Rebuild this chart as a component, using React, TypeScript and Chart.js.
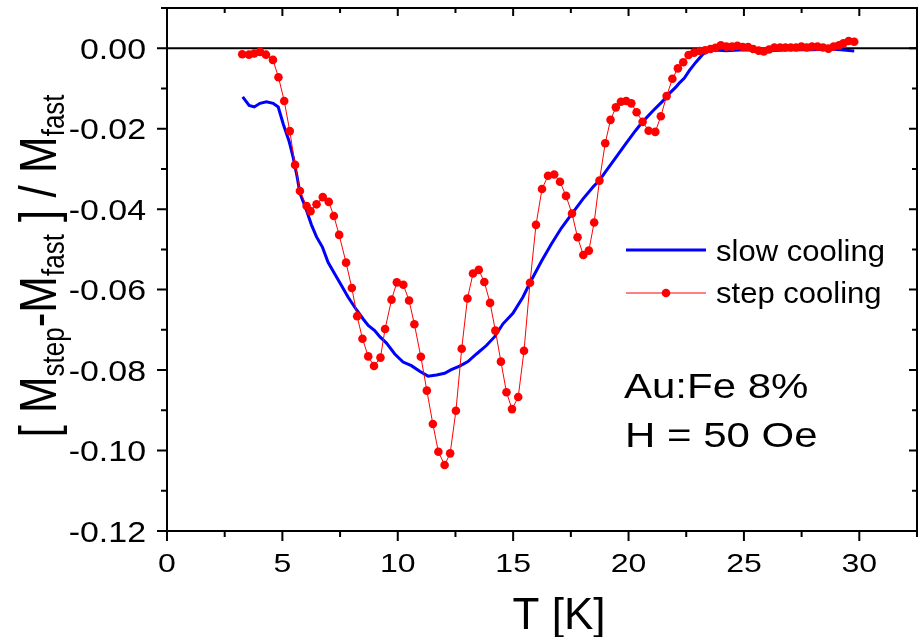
import React, { useEffect, useRef } from 'react';
import { Chart, registerables } from 'chart.js';

Chart.register(...registerables);

// ---- data ----
const stepT = [
  3.26, 3.55, 3.78, 4.03, 4.29, 4.59, 4.83, 5.08, 5.32, 5.55, 5.76, 6.05, 6.22, 6.48, 6.75, 7.01,
  7.23, 7.46, 7.76, 8.01, 8.24, 8.47, 8.72, 8.97, 9.25, 9.45, 9.73, 9.96, 10.24, 10.49, 10.72, 11.0,
  11.26, 11.52, 11.76, 12.03, 12.27, 12.52, 12.77, 13.02, 13.26, 13.51, 13.75, 14.0, 14.23, 14.47,
  14.71, 14.95, 15.22, 15.47, 15.73, 15.99, 16.25, 16.51, 16.78, 17.03, 17.29, 17.55, 17.79, 18.04,
  18.28, 18.51, 18.74, 18.99, 19.22, 19.45, 19.67, 19.9, 20.12, 20.35, 20.61, 20.87, 21.16, 21.4,
  21.65, 21.9, 22.14, 22.37, 22.6, 22.84, 23.09, 23.32, 23.55, 23.77, 24.0, 24.24, 24.49, 24.72,
  24.95, 25.18, 25.4, 25.64, 25.86, 26.09, 26.32, 26.57, 26.8, 27.03, 27.26, 27.49, 27.72, 27.95,
  28.19, 28.43, 28.66, 28.89, 29.12, 29.31, 29.54, 29.78,
];
const stepV = [
  -0.0015, -0.0016, -0.0013, -0.0009, -0.0016, -0.0029, -0.0072, -0.0131, -0.0206, -0.029, -0.0355,
  -0.0392, -0.0405, -0.0388, -0.037, -0.0382, -0.0417, -0.0464, -0.0533, -0.0596, -0.0666, -0.0722,
  -0.0766, -0.079, -0.0769, -0.0698, -0.0625, -0.0582, -0.0588, -0.0627, -0.0686, -0.0767, -0.0851,
  -0.0934, -0.1003, -0.1036, -0.1007, -0.0901, -0.0747, -0.0622, -0.056, -0.0551, -0.0581, -0.0633,
  -0.0702, -0.0779, -0.0855, -0.0897, -0.0867, -0.0752, -0.0583, -0.0439, -0.035, -0.0317, -0.0314,
  -0.0332, -0.0367, -0.0411, -0.047, -0.0514, -0.0503, -0.0433, -0.0329, -0.0236, -0.0178, -0.0147,
  -0.0133, -0.0131, -0.0137, -0.0159, -0.0183, -0.0205, -0.0208, -0.0169, -0.0119, -0.0076, -0.005,
  -0.0035, -0.0017, -0.0011, -0.0007, -0.0005, -0.0002, 0.0001, 0.0007, 0.0004, 0.0004, 0.0006,
  0.0003, 0.0003, -0.0002, -0.0006, -0.0008, -0.0003, 0.0002, 0.0002, 0.0002, 0.0002, 0.0002,
  0.0004, 0.0002, 0.0004, 0.0004, 0.0002, -0.0001, 0.0004, 0.0007, 0.0012, 0.0018, 0.0016,
];

const slowT = [
  3.28, 3.56, 3.78, 4.03, 4.31, 4.6, 4.82, 5.04, 5.29, 5.47, 5.64, 5.76, 6.05, 6.26, 6.48, 6.74,
  6.98, 7.27, 7.56, 7.85, 8.21, 8.5, 8.72, 9.0, 9.22, 9.51, 9.87, 10.23, 10.59, 10.95, 11.31, 11.68,
  12.03, 12.32, 12.68, 13.04, 13.41, 13.84, 14.2, 14.56, 14.99, 15.42, 15.73, 16.22, 16.65, 17.09,
  17.55, 18.02, 18.46, 18.74, 19.03, 19.47, 19.9, 20.3, 20.61, 21.05, 21.49, 21.65, 22.06, 22.21,
  22.42, 22.64, 22.93, 23.22, 23.51, 23.9, 24.23, 25.0, 26.0, 27.0, 28.0, 28.7, 29.2, 29.78,
];
const slowV = [
  -0.0121, -0.0142, -0.0146, -0.0137, -0.0133, -0.0137, -0.0146, -0.0189, -0.0231, -0.0272, -0.032,
  -0.036, -0.0404, -0.0439, -0.0469, -0.0495, -0.0532, -0.0561, -0.059, -0.0619, -0.065, -0.0673,
  -0.0689, -0.0702, -0.0717, -0.0733, -0.076, -0.078, -0.0789, -0.0803, -0.0815, -0.0812, -0.0808,
  -0.0799, -0.079, -0.0779, -0.076, -0.0739, -0.0717, -0.0685, -0.0659, -0.0619, -0.0583, -0.053,
  -0.0487, -0.0447, -0.0411, -0.0375, -0.0345, -0.0328, -0.0305, -0.027, -0.0236, -0.0205, -0.0183,
  -0.0156, -0.0131, -0.0119, -0.0096, -0.0086, -0.0074, -0.0055, -0.0034, -0.0015, -0.0005, -0.0005,
  -0.0006, -0.0004, -0.0006, -0.0004, -0.0004, -0.0002, -0.0004, -0.0007,
];

const xMajor = [0, 5, 10, 15, 20, 25, 30];
const xMinor = [2.5, 7.5, 12.5, 17.5, 22.5, 27.5, 32.5];
const yMajor = [0, -0.02, -0.04, -0.06, -0.08, -0.1, -0.12];
const yMinor = [0.01, -0.01, -0.03, -0.05, -0.07, -0.09, -0.11];
const yLabels = ['0.00', '-0.02', '-0.04', '-0.06', '-0.08', '-0.10', '-0.12'];

const FONT = '"Liberation Sans", Arial, Helvetica, sans-serif';

function drawText(
  ctx: CanvasRenderingContext2D,
  s: string,
  x: number,
  y: number,
  size: number,
  align: 'left' | 'center' | 'right',
  sx = 1
) {
  ctx.save();
  ctx.font = `${size}px ${FONT}`;
  ctx.textBaseline = 'alphabetic';
  ctx.textAlign = 'left';
  const w = ctx.measureText(s).width * sx;
  const left = align === 'center' ? x - w / 2 : align === 'right' ? x - w : x;
  ctx.translate(left, y);
  ctx.scale(sx, 1);
  ctx.fillStyle = '#000';
  ctx.fillText(s, 0, 0);
  ctx.restore();
}

const decorPlugin = {
  id: 'decor',
  beforeDatasetsDraw(chart: any) {
    const ctx = chart.ctx as CanvasRenderingContext2D;
    const { left, right } = chart.chartArea;
    const y0 = chart.scales.y.getPixelForValue(0);
    ctx.save();
    ctx.strokeStyle = '#000';
    ctx.lineWidth = 2;
    ctx.beginPath();
    ctx.moveTo(left, y0);
    ctx.lineTo(right, y0);
    ctx.stroke();
    ctx.restore();
  },
  afterDraw(chart: any) {
    const ctx = chart.ctx as CanvasRenderingContext2D;
    const { left, right, top, bottom } = chart.chartArea;
    const xs = chart.scales.x;
    const ys = chart.scales.y;
    ctx.save();
    ctx.strokeStyle = '#000';
    ctx.lineWidth = 2;
    ctx.strokeRect(left, top, right - left, bottom - top);
    ctx.beginPath();
    const tick = (x1: number, y1: number, x2: number, y2: number) => {
      ctx.moveTo(x1, y1);
      ctx.lineTo(x2, y2);
    };
    xMajor.forEach((v) => {
      const px = xs.getPixelForValue(v);
      tick(px, bottom, px, bottom + 10);
      tick(px, top, px, top + 8);
    });
    xMinor.forEach((v) => {
      const px = xs.getPixelForValue(v);
      tick(px, bottom, px, bottom + 6);
      tick(px, top, px, top + 5);
    });
    yMajor.forEach((v) => {
      const py = ys.getPixelForValue(v);
      tick(left - 10, py, left, py);
      tick(right - 8, py, right, py);
    });
    yMinor.forEach((v) => {
      const py = ys.getPixelForValue(v);
      tick(left - 6, py, left, py);
      tick(right - 5, py, right, py);
    });
    ctx.stroke();
    ctx.restore();

    // tick labels
    yMajor.forEach((v, i) => {
      const py = ys.getPixelForValue(v);
      drawText(ctx, yLabels[i], left - 21, py + 10.5, 29, 'right', 1.17);
    });
    xMajor.forEach((v) => {
      const px = xs.getPixelForValue(v);
      drawText(ctx, String(v), px, 572, 25, 'center', 1.28);
    });

    // x title
    drawText(ctx, 'T [K]', 559, 629, 44, 'center', 1.0);

    // y title with subscripts
    const F = 44;
    const S = 26;
    const parts: [string, boolean][] = [
      ['[ M', false],
      ['step', true],
      ['-M', false],
      ['fast', true],
      [' ] / M', false],
      ['fast', true],
    ];
    ctx.save();
    let total = 0;
    const widths = parts.map(([s, sub]) => {
      ctx.font = `${sub ? S : F}px ${FONT}`;
      const w = ctx.measureText(s).width;
      total += w;
      return w;
    });
    ctx.translate(56, 266);
    ctx.rotate(-Math.PI / 2);
    ctx.scale(1, 1.18);
    ctx.fillStyle = '#000';
    ctx.textAlign = 'left';
    ctx.textBaseline = 'alphabetic';
    let u = -total / 2;
    parts.forEach(([s, sub], i) => {
      ctx.font = `${sub ? S : F}px ${FONT}`;
      ctx.fillText(s, u, sub ? 7 : 0);
      u += widths[i];
    });
    ctx.restore();

    // legend
    ctx.save();
    ctx.strokeStyle = '#0000ff';
    ctx.lineWidth = 3;
    ctx.beginPath();
    ctx.moveTo(626, 250);
    ctx.lineTo(706, 250);
    ctx.stroke();
    ctx.strokeStyle = '#ff0000';
    ctx.lineWidth = 1;
    ctx.beginPath();
    ctx.moveTo(626, 293);
    ctx.lineTo(706, 293);
    ctx.stroke();
    ctx.fillStyle = '#ff0000';
    ctx.beginPath();
    ctx.arc(666, 293, 4.3, 0, Math.PI * 2);
    ctx.fill();
    ctx.restore();
    drawText(ctx, 'slow cooling', 716, 261, 29, 'left', 1.07);
    drawText(ctx, 'step cooling', 716, 303, 29, 'left', 1.07);

    // annotations
    drawText(ctx, 'Au:Fe 8%', 624, 398, 35, 'left', 1.2);
    drawText(ctx, 'H = 50 Oe', 625, 447, 35, 'left', 1.2);
  },
};

export default function App() {
  const ref = useRef<HTMLCanvasElement | null>(null);
  useEffect(() => {
    document.body.style.margin = '0';
    const canvas = ref.current;
    if (!canvas) return;
    const chart = new Chart(canvas, {
      type: 'scatter',
      data: {
        datasets: [
          {
            label: 'step cooling',
            data: stepT.map((t, i) => ({ x: t, y: stepV[i] })),
            showLine: true,
            borderColor: '#ff0000',
            borderWidth: 1,
            pointRadius: 4.3,
            pointBackgroundColor: '#ff0000',
            pointBorderWidth: 0,
            pointHoverRadius: 4.3,
            order: 0,
          },
          {
            label: 'slow cooling',
            data: slowT.map((t, i) => ({ x: t, y: slowV[i] })),
            showLine: true,
            borderColor: '#0000ff',
            borderWidth: 3,
            pointRadius: 0,
            pointHoverRadius: 0,
            order: 1,
          },
        ],
      },
      options: {
        responsive: false,
        animation: false,
        events: [],
        layout: { padding: { top: 8, right: 5, left: 0, bottom: 0 } },
        plugins: { legend: { display: false }, tooltip: { enabled: false } },
        scales: {
          x: {
            type: 'linear',
            min: 0,
            max: 32.5,
            grid: { display: false },
            border: { display: false },
            ticks: { display: false },
            afterFit: (s: any) => {
              s.height = 106;
            },
          },
          y: {
            type: 'linear',
            min: -0.12,
            max: 0.01,
            grid: { display: false },
            border: { display: false },
            ticks: { display: false },
            afterFit: (s: any) => {
              s.width = 167;
            },
          },
        },
      },
      plugins: [decorPlugin],
    } as any);
    return () => chart.destroy();
  }, []);
  return <canvas ref={ref} width={922} height={637} style={{ display: 'block' }} />;
}
